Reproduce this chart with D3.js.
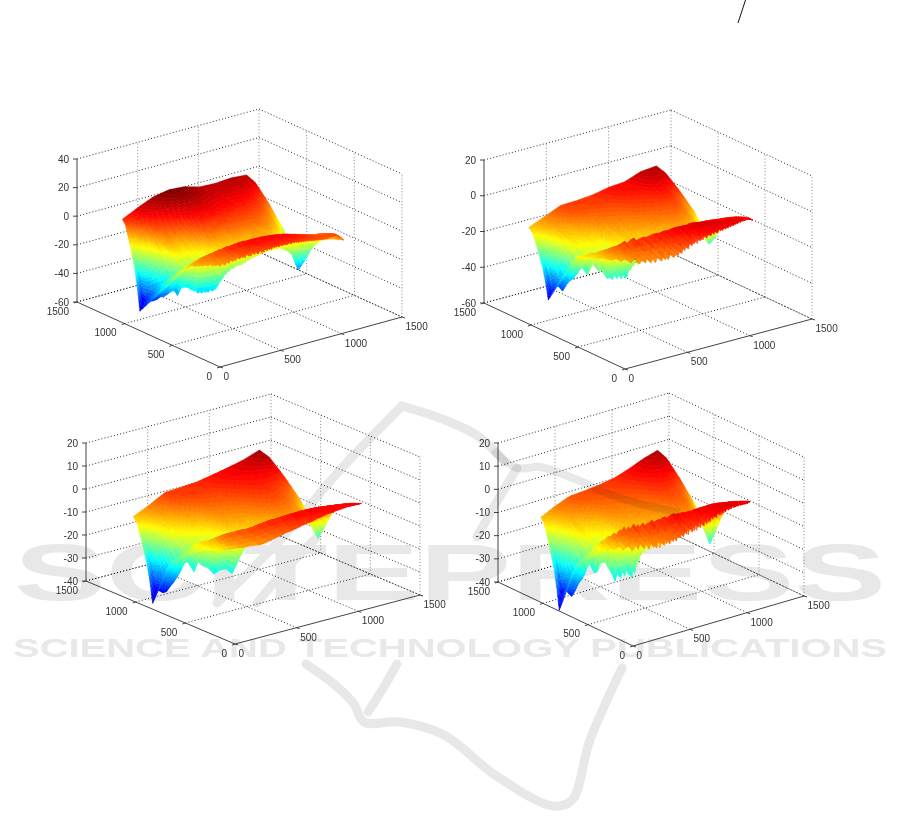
<!DOCTYPE html>
<html><head><meta charset="utf-8">
<script src="https://cdn.jsdelivr.net/npm/d3@7/dist/d3.min.js"></script>
<style>html,body{margin:0;padding:0;background:#fff}svg{display:block;filter:blur(.3px)}</style></head>
<body><svg id="c" width="901" height="831"></svg>
<script>
// ---- shared station positions (data units) ----
const ridgeXs  = [0,128,256,384,512,640,768,896,1024];
const valleyYXs= [0,128,256,384,512,640,768,896,1024];
const plateXs  = [0,128,256,384,512,640,768,896,1024];
const crestYXs = [0,32,64,96,128,256,384,512,640,768,896,1024];
const crestXs  = [0,32,64,96,128,160,192,224,256,288,320,352,384,416,448,480,512,544,576,608,640,672,704,736,768,800,832,864,896,928,960,992,1024];
const valleyXs = [0,8,16,24,32,40,48,56,64,72,80,88,96,104,112,120,128,160,192,224,256,288,320,352,384,416,448,480,512,544,576,608,640,672,704,736,768,800,832,864,896,928,960,992,1024];
const wallU = [0,.17,.42,.7,.85,1];
const wallV = [0,.05,.25,.52,.73,1];
const riseU = [0,.15,.29,.48,.73,1];
const riseV = [0,.26,.54,.78,.91,1];
const xTicks = [0,500,1000,1500];
const yTicks = [0,500,1000,1500];
const zTicks1 = [-60,-40,-20,0,20,40];
const zTicks2 = [-60,-40,-20,0,20];
const zTicks3 = [-40,-30,-20,-10,0,10,20];

// ---- panel 1 ----
const ridgeZ1  = [12.3,17.5,22,24,23,20,19.5,20.3,19.4];
const valleyY1 = [840,430,385,370,360,350,345,380,478];
const valleyZ1 = [-46.3,-36.6,-37.4,-37.6,-37,-35,-33,-32.4,-29.7,-27.7,-26.4,-28.6,-23.1,-21.8,-22,-22,-23,-24.3,-24.4,-24,-23.8,-20.2,-16,-13.1,-11.6,-10.2,-10.1,-9.4,-8,-7.3,-6.6,-5.8,-5.1,-4.8,-4.8,-5.1,-5.1,-6.8,-8.9,-11,-14,-17.6,-22,-27,-30.5];
const crestY1  = [298,285.5,273,260.5,248,198,152,122,93,64,35,6];
const crestZ1  = [3,4.5,6,7.2,8.5,9.6,10.8,11.8,12.7,13.2,13.7,14.2,14.5,14.8,15,15.2,15.3,15,14.8,14.5,14.3,13.6,13,12.4,11.7,11,10.5,9.8,9.5,9.8,10,8,4.8];
const ripple1  = [0,.1,-.1,.1,.2,-.2,.1,.3,-.2,.4,-.3,.1,.5,-.4,.2,.6,-.5,.3,-.2,.7,-.6,.4,.9,-.4,-.8,.5,.2,-.7,1,.3,-.6,.6,-.9,.2,.8,-.5,-.2,1.1,-.7,.4,-.9,.7,1.2,-.6,.1,-1,.8,.3,-.7,1,-.4,-.8,.6,.9,-.5,.2,-1,.7,.4,-.6,.9,-.3,.5,-.8,.2,.7,-.6,.4,-.2,.8,-.7,.3,.6,-.5,.1,.7,-.4,.5,-.6,.2,.6,-.3,-.5,.5,.2,-.4,.6,-.2,.3,-.5,.4,.1,-.4,.5,-.2,.2,-.3,.4,-.1,-.3,.3,.1,-.3,.3,-.2,.2,.3,-.2,-.1,.2,-.3,.2,.1,-.1,.2,-.2,.1,.1,-.2,.1,0,.1,-.1,.1,0,-.1,.1,0,0];
const plateY1  = [20,100,100,90,80,60,40,20,0];
const plateD1  = [1,5,5,5,4,3,2,1,0];
// ---- panel 2 ----
const ridgeZ2  = [-6,-2.3,1.5,1.8,2.6,4.4,5.1,8.4,9.3];
const valleyY2 = [816,380,340,330,320,310,300,340,454];
const valleyZ2 = [-41.5,-35,-32.4,-32.8,-34.2,-30.5,-28.1,-25.4,-22.4,-18.5,-19.5,-21.2,-15.1,-15.5,-16.9,-17.9,-19.2,-21.7,-20.8,-20.6,-22.4,-18.7,-15.5,-15.6,-12.3,-12,-11.6,-11.3,-10.8,-10.4,-10,-9.7,-9.3,-8.9,-8.5,-8,-7.7,-8.1,-8.8,-9.8,-11.4,-13.8,-16.5,-18.6,-20.3];
const crestY2  = [514,412,320,280,240,190,152,114,76,38,19,0];
const crestZ2  = [-9.8,-6.4,-3.4,-1.5,.3,.8,1.2,1.7,2,2.3,2.5,2.8,3.1,3.7,4.3,4.8,5.3,5.6,6,6.2,6.6,6.6,6.7,6.7,6.7,6.6,6.3,6.2,6.1,6.2,5.9,5.8,4.3];
const ripple2  = [0,0,.1,-.1,.2,0,-.2,.2,.3,-.2,.1,.4,-.3,-.5,.5,.2,-.4,.9,.3,-.8,1.2,1.9,-.6,-1,.4,1.1,-.3,-.9,2.4,.8,-.7,-1.2,1.3,.2,-1.4,.6,1.8,.4,-.5,-1.1,.9,1.5,-.8,-.2,1.1,-1.3,.3,2,.7,-.6,-1.2,.8,1.3,-.4,-1,.2,1.6,-.7,-1.3,.5,1,-.9,.3,1.2,-.6,-1.4,.7,1.4,-.2,-.9,1,-.5,.4,1.1,-1.2,.2,.8,-.7,-.3,1,-.9,.5,1.2,-.4,-1,.6,-.2,.9,-.8,.3,.7,-.6,.1,.8,-.5,-.7,.4,.6,-.3,.5,-.6,.2,.7,-.4,-.2,.5,-.5,.3,.4,-.3,.1,.5,-.4,.2,.3,-.3,.4,-.2,.1,.3,-.4,.2,.1,-.2,.3,-.1,.1,-.1,0];
const plateY2  = [0,200,220,200,150,110,70,30,0];
const plateD2  = [0,4,5,5,4,3,2,1,0];
// ---- panel 3 ----
const ridgeZ3  = [-3.3,-.1,3.5,3.9,4.4,5.7,7.1,8.7,11.1];
const valleyY3 = [829,430,350,330,320,300,290,340,433];
const valleyZ3 = [-37.4,-31.3,-31.4,-31.8,-31,-28.5,-26.4,-23.7,-21,-17,-16,-17.7,-19.6,-14.4,-15.9,-16.4,-16.5,-19.3,-17.7,-17.3,-19.3,-16,-12.1,-9.3,-8,-7.9,-7.1,-7,-6.6,-5.8,-5.5,-4.7,-4,-3.7,-3.3,-3.3,-3.3,-3.8,-4.8,-5.8,-7.7,-9.7,-11.9,-14.3,-16.5];
const crestY3  = [650,555,460,355,250,190,160,135,100,70,35,0];
const crestZ3  = [-16.1,-11.1,-5.3,-2.6,1.4,1.8,2.3,2.7,3,3.3,3.6,4,4.3,4.7,5,5.1,5.3,5.7,5.9,6.2,6.3,6.5,6.6,6.7,6.7,6.7,6.7,6.6,6.6,6.7,6.6,6.6,6.6];
const ripple3  = [0,0,0,.1,0,-.1,0,.1,0,0,.1,-.1,0,.1,0,-.1,0,.1,0,0,-.1,.1,0,0,.1,-.1,0,0,.1,0,-.1,0,.1,0,-.1,0,.1,0,0,-.1,.1,0,0,.1,0,-.1,0,0,.1,0,-.1,0,0,.1,0,0,-.1,0,0,.1,0,0,0,0,0];
const plateY3  = [0,120,150,130,110,80,50,20,0];
const plateD3  = [0,4,4,3.5,3,2.5,1.5,.5,0];
// ---- panel 4 ----
const ridgeZ4  = [-3.3,-.2,2.2,2.6,3.3,4.3,6.4,9,10.9];
const valleyY4 = [819,420,340,320,300,290,285,340,441];
const valleyZ4 = [-39.6,-30.6,-30.2,-31.3,-32.4,-29.2,-26.7,-24.2,-21,-17.8,-16.3,-20,-20,-13.8,-14.6,-15,-16,-20.4,-19.1,-17.8,-19.3,-16.8,-11.4,-9.7,-8.6,-8.2,-8.1,-8,-7.2,-6.9,-6.6,-6.2,-6,-5.6,-5.3,-4.8,-4,-4,-4.7,-5.8,-7.7,-10,-13.1,-16.2,-18.9];
const crestY4  = [620,530,440,380,320,240,195,150,110,75,38,0];
const crestZ4  = [-15.7,-10.2,-4.3,-1.2,.9,2,2.4,2.6,3.1,3.1,3.5,3.7,4,4.6,5,5.4,5.7,5.7,5.9,6,6.3,6.4,6.9,7.1,7.3,7.4,7.5,7.4,7.4,7.4,7.4,7.4,7.4];
const ripple4  = [0,.1,0,-.1,.2,-.1,.1,.3,-.2,.2,-.4,.5,.1,-.5,.8,-.3,.4,1.2,-.7,.3,1.6,-.9,-.2,1.1,.6,-1.2,.9,2,-.5,-1,1.4,.3,-1.3,.7,1.7,-.6,.2,-1.1,1.3,.8,-1.4,.4,1.9,-.4,-1,1.1,-.8,.6,1.5,-1.2,.1,1,-.7,1.6,.3,-1.3,.8,-.5,1.2,-.9,.5,1.7,-1.1,-.2,1.3,-.6,.9,-1.4,.7,1.5,.2,-1,1.1,-.7,.4,1.4,-1.2,.6,-.3,1.2,-.9,.8,1.5,-.6,-1.1,.9,.3,-1,1.3,-.5,.7,-.9,1.1,.2,-.8,1,-.4,.6,-1,.9,1.2,-.6,.3,-.9,1,-.7,.5,1.1,-.8,.2,.9,-.6,-.3,.8,-.7,.6,1,-.8,.4,-.5,.7,-.6,.8,.2,-.6,.5,-.4,.5,.2];
const plateY4  = [0,150,180,170,140,100,60,25,0];
const plateD4  = [0,4,4.5,4,3.5,2.5,1.5,.5,0];

const wmTitle = "SCITEPRESS";
const wmSub = "SCIENCE AND TECHNOLOGY PUBLICATIONS";

const panels = [
 {ox:220,oy:367,xv:[182,-50],yv:[-143,-65],zh:143,zlim:[-60,40],zticks:zTicks1,col:[-48,24],ridge:ridgeZ1,vy:valleyY1,vz:valleyZ1,cy:crestY1,cz:crestZ1,rip:ripple1,py:plateY1,pd:plateD1,ragged:1,streak:.25},
 {ox:625,oy:369,xv:[187,-50],yv:[-141,-66],zh:143,zlim:[-60,20],zticks:zTicks2,col:[-44,12],ridge:ridgeZ2,vy:valleyY2,vz:valleyZ2,cy:crestY2,cz:crestZ2,rip:ripple2,py:plateY2,pd:plateD2,ragged:1,streak:.5},
 {ox:235,oy:644,xv:[185,-49],yv:[-149,-63],zh:138,zlim:[-40,20],zticks:zTicks3,col:[-37.5,12.5],ridge:ridgeZ3,vy:valleyY3,vz:valleyZ3,cy:crestY3,cz:crestZ3,rip:ripple3,py:plateY3,pd:plateD3,ragged:1,streak:0},
 {ox:633,oy:646,xv:[171,-50],yv:[-135,-64],zh:139,zlim:[-40,20],zticks:zTicks3,col:[-39.5,13],ridge:ridgeZ4,vy:valleyY4,vz:valleyZ4,cy:crestY4,cz:crestZ4,rip:ripple4,py:plateY4,pd:plateD4,ragged:1,streak:.5}
];

const svg = d3.select("#c");
const wmColor = "#e7e8e7";
// ---- watermark below the charts ----
const wm = svg.append("g");
wm.append("text").text(wmTitle).attr("x",14).attr("y",600).attr("textLength",872).attr("lengthAdjust","spacingAndGlyphs")
  .attr("font-family","Liberation Sans, Arial, sans-serif").attr("font-weight","bold").attr("font-size",80).attr("fill",wmColor);
wm.append("text").text(wmSub).attr("x",13).attr("y",657).attr("textLength",874).attr("lengthAdjust","spacingAndGlyphs")
  .attr("font-family","Liberation Sans, Arial, sans-serif").attr("font-weight","bold").attr("font-size",26).attr("fill",wmColor);
const wmLine = d3.line().curve(d3.curveCatmullRom);
const wmBands = [
 [[402,406],[340,470],[280,540],[217,603]],
 [[402,406],[445,420],[478,436],[505,462]],
 [[306,664],[335,685],[354,704],[364,722],[400,722],[444,735],[495,775],[553,806],[572,800],[590,740],[622,668]],
 [[397,664],[382,690],[368,712]],
 [[317,537],[285,570],[257,603]],
 [[517,468],[495,505],[477,537]]
];
wm.selectAll("path").data(wmBands).join("path").attr("d",wmLine).attr("fill","none").attr("stroke",wmColor).attr("stroke-width",9).attr("stroke-linecap","round");
// the small stroke at the top of the page
svg.append("line").attr("x1",738).attr("y1",23).attr("x2",745.5).attr("y2",0).attr("stroke","#111").attr("stroke-width",1);

panels.forEach(p=>{
  const xX=d3.scaleLinear([0,1500],[0,p.xv[0]]), xY=d3.scaleLinear([0,1500],[0,p.xv[1]]);
  const yX=d3.scaleLinear([0,1500],[0,p.yv[0]]), yY=d3.scaleLinear([0,1500],[0,p.yv[1]]);
  const zY=d3.scaleLinear(p.zlim,[0,-p.zh]);
  const P=(x,y,z)=>[p.ox+xX(x)+yX(y), p.oy+xY(x)+yY(y)+zY(z)];
  const g=svg.append("g");
  const [z0,z1]=p.zlim;
  // ---- grid ----
  const drawSegs=(segs,col)=>g.append("g").selectAll("line").data(segs).join("line")
    .attr("x1",d=>P(...d[0])[0]).attr("y1",d=>P(...d[0])[1]).attr("x2",d=>P(...d[1])[0]).attr("y2",d=>P(...d[1])[1])
    .attr("stroke",col).attr("stroke-width",.9).attr("stroke-dasharray","1 2.2");
  const dark=[], light=[];
  p.zticks.forEach(z=>{ dark.push([[0,1500,z],[1500,1500,z]]); dark.push([[1500,1500,z],[1500,0,z]]); });
  [500,1000,1500].forEach(x=>light.push([[x,1500,z0],[x,1500,z1]]));
  [500,1000,0].forEach(y=>light.push([[1500,y,z0],[1500,y,z1]]));
  [500,1000,1500].forEach(x=>dark.push([[x,0,z0],[x,1500,z0]]));
  [500,1000,1500].forEach(y=>dark.push([[0,y,z0],[1500,y,z0]]));
  drawSegs(light,"#777"); drawSegs(dark,"#111");
  // ---- axes ----
  const ax=[[[0,0,z0],[1500,0,z0]],[[0,0,z0],[0,1500,z0]],[[0,1500,z0],[0,1500,z1]]];
  g.append("g").selectAll("line").data(ax).join("line")
    .attr("x1",d=>P(...d[0])[0]).attr("y1",d=>P(...d[0])[1]).attr("x2",d=>P(...d[1])[0]).attr("y2",d=>P(...d[1])[1])
    .attr("stroke","#444").attr("stroke-width",1);
  const font="Liberation Sans, Arial, sans-serif";
  const lab=g.append("g").attr("font-family",font).attr("font-size",10).attr("fill","#333");
  p.zticks.forEach(z=>{ const q=P(0,1500,z);
    g.append("line").attr("x1",q[0]-4).attr("x2",q[0]).attr("y1",q[1]).attr("y2",q[1]).attr("stroke","#444");
    lab.append("text").text(z).attr("x",q[0]-8).attr("y",q[1]+3.5).attr("text-anchor","end");
  });
  yTicks.forEach(y=>{ const q=P(0,y,z0);
    g.append("line").attr("x1",q[0]-3).attr("x2",q[0]).attr("y1",q[1]+1).attr("y2",q[1]).attr("stroke","#444");
    lab.append("text").text(y).attr("x",q[0]-8).attr("y",q[1]+12.5).attr("text-anchor","end");
  });
  xTicks.forEach(x=>{ const q=P(x,0,z0);
    g.append("line").attr("x1",q[0]).attr("x2",q[0]+3).attr("y1",q[1]).attr("y2",q[1]+1).attr("stroke","#444");
    lab.append("text").text(x).attr("x",q[0]+3.5).attr("y",q[1]+13).attr("text-anchor","start");
  });
  // ---- surface ----
  const jet=d3.scaleLinear().domain([0,.125,.375,.625,.875,1]).range(["#00007f","#0000ff","#00ffff","#ffff00","#ff0000","#7f0000"]).clamp(true);
  const colT=d3.scaleLinear(p.col,[0,1]).clamp(true);
  const level=z=>Math.min(63,Math.floor(colT(z)*64));
  const sRidge=d3.scaleLinear(ridgeXs,p.ridge), sVY=d3.scaleLinear(valleyYXs,p.vy), sVZ=d3.scaleLinear(valleyXs,p.vz);
  const sCY=d3.scaleLinear(crestYXs,p.cy), sCZ=d3.scaleLinear(crestXs,p.cz);
  const ripX=p.rip.map((_,i)=>i*1024/(p.rip.length-1));
  const sRip=d3.scaleLinear(ripX,p.rip);
  const sRag=d3.scaleLinear(ripX,p.rip.map((_,i)=>p.rip[(i+5)%p.rip.length]));
  const sPY=d3.scaleLinear(plateXs,p.py), sPD=d3.scaleLinear(plateXs,p.pd);
  const sWall=d3.scaleLinear(wallU,wallV), sRise=d3.scaleLinear(riseU,riseV), bend=d3.scaleLinear([0,128],[0,1]).clamp(true);
  const lerp=(a,b,t)=>a+(b-a)*t;
  const cols=d3.range(0,1025,8);
  const valleyZ=x=>sVZ(x)+sRag(x)*.9;
  const crestZ=x=>sCZ(x)+sRip(x);
  const wallAt=(x,u)=>[x,lerp(1024,sVY(x),u),lerp(sRidge(x),sVZ(x),sWall(u))+(u>.45?sRag(x)*p.streak*(u-.45)/.55*2:0)];
  const riseAt=(x,u)=>{const b=bend(x),t=(1-b)*u+b*sRise(u);return [x,lerp(sVY(x),sCY(x),u),lerp(valleyZ(x),crestZ(x),t)];};
  const plateAt=(x,u)=>{const zc=crestZ(x),zf=sCZ(x)-sPD(x)+sRag(x)*p.ragged*Math.min(1,sPY(x)/60);return [x,sCY(x)-sPY(x)*u,lerp(zc,zf,u)];};
  const poly=d3.line();
  const sheet=(fn,rows)=>{
    const paths=d3.range(64).map(()=>[]);
    for(let c=cols.length-2;c>=0;c--){
      for(let r=0;r<rows;r++){
        const a=fn(cols[c],r/rows),b=fn(cols[c+1],r/rows),d=fn(cols[c+1],(r+1)/rows),e=fn(cols[c],(r+1)/rows);
        paths[level((a[2]+b[2]+d[2]+e[2])/4)].push(poly([a,b,d,e].map(v=>P(...v)))+"Z");
      }
    }
    const items=paths.map((d,i)=>({d:d.join(""),c:jet((i+.5)/64)})).filter(o=>o.d);
    g.append("g").selectAll("path").data(items).join("path").attr("d",d=>d.d).attr("fill",d=>d.c).attr("stroke",d=>d.c).attr("stroke-width",.45);
  };
  sheet(wallAt,36); sheet(riseAt,16); sheet(plateAt,4);
});
// the arc of the logo that lies over the last surface
svg.append("path").attr("d",wmLine([[493,450],[517,468],[540,467],[573,478],[617,497],[680,513]]))
  .attr("fill","none").attr("stroke",wmColor).attr("stroke-width",8).style("mix-blend-mode","multiply");
</script></body></html>
